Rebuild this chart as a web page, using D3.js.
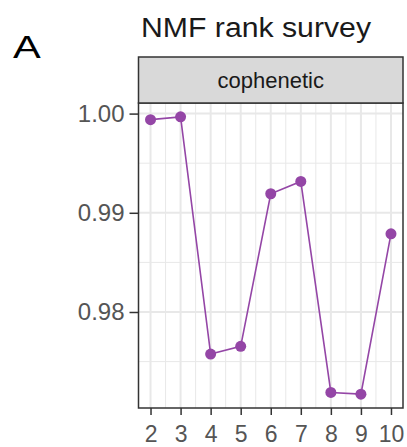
<!DOCTYPE html>
<html>
<head>
<meta charset="utf-8">
<script src="https://cdn.jsdelivr.net/npm/d3@7"></script>
<style>
  html, body { margin: 0; padding: 0; background: #fff; }
  svg { display: block; font-family: "Liberation Sans", Arial, sans-serif; }
</style>
</head>
<body>
<svg id="chart" width="407" height="447"></svg>
<script>
// Cophenetic correlation for each NMF factorization rank
const ranks = [2, 3, 4, 5, 6, 7, 8, 9, 10];
const cophenetic = [0.99939, 0.99967, 0.97576, 0.97654, 0.99192, 0.99316, 0.97189, 0.97172, 0.98788];
const yTicks = [0.98, 0.99, 1.00];
const yMinor = [0.975, 0.985, 0.995];
const xTicks = [2, 3, 4, 5, 6, 7, 8, 9, 10];
const panelLabel = "A";
const titleText = "NMF rank survey";
const stripText = "cophenetic";

const svg = d3.select("#chart");
const panel = { left: 138.5, right: 403, top: 103, bottom: 408 };
const strip = { top: 57, bottom: 103 };

// ggplot-style 5% expansion on both continuous axes
const xr = d3.extent(ranks), yr = d3.extent(cophenetic);
const xPad = (xr[1] - xr[0]) * 0.05, yPad = (yr[1] - yr[0]) * 0.05;
const x = d3.scaleLinear().domain([xr[0] - xPad, xr[1] + xPad]).range([panel.left, panel.right]);
const y = d3.scaleLinear().domain([yr[0] - yPad, yr[1] + yPad]).range([panel.bottom, panel.top]);

const purple = "#9446a6";
const grid = "#e8e8e8";
const dark = "#333333";
const tickText = "#555555";

// panel background
svg.append("rect")
  .attr("x", panel.left).attr("y", panel.top)
  .attr("width", panel.right - panel.left).attr("height", panel.bottom - panel.top)
  .attr("fill", "#fff");

// minor grid lines
const xMinor = d3.range(xr[0] - 0.5, xr[1] + 1, 1).filter(v => v > x.domain()[0] && v < x.domain()[1]);
const g = svg.append("g");
g.selectAll(".vminor").data(xMinor).join("line")
  .attr("x1", d => x(d)).attr("x2", d => x(d))
  .attr("y1", panel.top).attr("y2", panel.bottom)
  .attr("stroke", grid).attr("stroke-width", 1);
g.selectAll(".hminor").data(yMinor).join("line")
  .attr("x1", panel.left).attr("x2", panel.right)
  .attr("y1", d => y(d)).attr("y2", d => y(d))
  .attr("stroke", grid).attr("stroke-width", 1);
// major grid lines
g.selectAll(".vmajor").data(xTicks).join("line")
  .attr("x1", d => x(d)).attr("x2", d => x(d))
  .attr("y1", panel.top).attr("y2", panel.bottom)
  .attr("stroke", grid).attr("stroke-width", 2);
g.selectAll(".hmajor").data(yTicks).join("line")
  .attr("x1", panel.left).attr("x2", panel.right)
  .attr("y1", d => y(d)).attr("y2", d => y(d))
  .attr("stroke", grid).attr("stroke-width", 2);

// line and points
const pts = ranks.map((r, i) => [r, cophenetic[i]]);
svg.append("path")
  .datum(pts)
  .attr("d", d3.line().x(d => x(d[0])).y(d => y(d[1])))
  .attr("fill", "none").attr("stroke", purple).attr("stroke-width", 1.6);
svg.selectAll(".pt").data(pts).join("circle")
  .attr("cx", d => x(d[0])).attr("cy", d => y(d[1]))
  .attr("r", 5.5).attr("fill", purple);

// panel border
svg.append("rect")
  .attr("x", panel.left).attr("y", panel.top)
  .attr("width", panel.right - panel.left).attr("height", panel.bottom - panel.top)
  .attr("fill", "none").attr("stroke", dark).attr("stroke-width", 1.5);

// facet strip
svg.append("rect")
  .attr("x", panel.left).attr("y", strip.top)
  .attr("width", panel.right - panel.left).attr("height", strip.bottom - strip.top)
  .attr("fill", "#d9d9d9").attr("stroke", dark).attr("stroke-width", 1.5);
svg.append("text")
  .attr("x", (panel.left + panel.right) / 2).attr("y", (strip.top + strip.bottom) / 2)
  .attr("text-anchor", "middle").attr("dominant-baseline", "central")
  .attr("font-size", 22).attr("fill", "#1a1a1a")
  .text(stripText);

// y axis
const yAxis = svg.append("g")
  .attr("transform", `translate(${panel.left},0)`)
  .call(d3.axisLeft(y).tickValues(yTicks).tickFormat(d3.format(".2f")).tickSize(9).tickPadding(5));
yAxis.select(".domain").remove();
yAxis.selectAll(".tick line").attr("stroke", dark).attr("stroke-width", 1.5);
yAxis.selectAll(".tick text").attr("font-size", 24).attr("fill", tickText)
  .attr("font-family", "'Liberation Sans', Arial, sans-serif");

// x axis
const xAxis = svg.append("g")
  .attr("transform", `translate(0,${panel.bottom})`)
  .call(d3.axisBottom(x).tickValues(xTicks).tickFormat(d3.format("d")).tickSize(7).tickPadding(11));
xAxis.select(".domain").remove();
xAxis.selectAll(".tick line").attr("stroke", dark).attr("stroke-width", 1.5);
xAxis.selectAll(".tick text").attr("font-size", 23).attr("fill", tickText)
  .attr("font-family", "'Liberation Sans', Arial, sans-serif");

// title and panel tag
svg.append("text")
  .attr("x", 141).attr("y", 37)
  .attr("font-size", 27).attr("fill", "#1a1a1a")
  .attr("textLength", 230).attr("lengthAdjust", "spacingAndGlyphs")
  .text(titleText);
svg.append("text")
  .attr("transform", "translate(13,58) scale(1.3,1)")
  .attr("font-size", 32).attr("fill", "#000")
  .text(panelLabel);
</script>
</body>
</html>
